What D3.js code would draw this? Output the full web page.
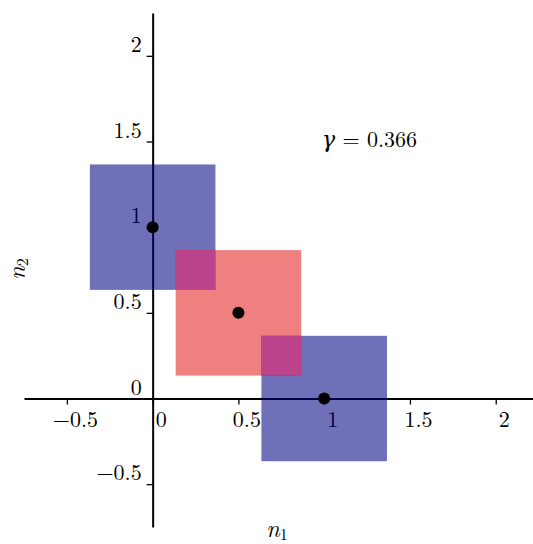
<!DOCTYPE html>
<html>
<head>
<meta charset="utf-8">
<script src="https://cdn.jsdelivr.net/npm/d3@7"></script>
<style>
  body { margin: 0; background: #fff; }
</style>
</head>
<body>
<div class="wrapper"></div>
<script>
// set the dimensions of the graph
var width = 533,
  height = 544,
  fontFam = "'Latin Modern Roman', 'DejaVu Serif', serif";

// square centres (n1, n2) and their colours
var centerN1 = [0, 0.5, 1];
var centerN2 = [1, 0.5, 0];
var squareKind = ["blue", "red", "blue"];
var gamma = 0.366;

// tick values
var xTicks = [-0.5, 0, 0.5, 1, 1.5, 2];
var yTicks = [-0.5, 0, 0.5, 1, 1.5, 2];

var colors = { blue: "#000080", red: "#e41a1c" };
var overlapColor = "#bc448c";

var squares = centerN1.map(function(c, i) {
  return { x: c, y: centerN2[i], kind: squareKind[i] };
});

var x = d3.scaleLinear().domain([-0.75, 2.25]).range([24, 538.6]);
var y = d3.scaleLinear().domain([-0.75, 2.25]).range([527, 13]);

var svg = d3
  .select(".wrapper")
  .append("svg")
  .attr("width", width)
  .attr("height", height)
  .style("font-family", fontFam);

function fmt(v) {
  return v < 0 ? "\u2212" + Math.abs(v) : String(v);
}

function styleAxis(g) {
  g.attr("font-family", null);
  g.select(".domain").attr("stroke", "#000").attr("stroke-width", 2);
  g.selectAll(".tick line").attr("stroke", "#000").attr("stroke-width", 1.3);
  g.selectAll(".tick text")
    .style("font-family", fontFam)
    .style("font-size", "22px")
    .attr("fill", "#000");
}

// x axis through origin
var gx = svg
  .append("g")
  .attr("class", "axis xAxis")
  .attr("transform", "translate(0," + y(0) + ")")
  .call(d3.axisBottom(x).tickValues(xTicks).tickSize(6).tickSizeOuter(0).tickFormat(fmt))
  .call(styleAxis);
gx.selectAll(".tick text").attr("y", 28).attr("dy", null).attr("dx", 8);

// y axis through origin
var gy = svg
  .append("g")
  .attr("class", "axis yAxis")
  .attr("transform", "translate(" + x(0) + ",0)")
  .call(d3.axisLeft(y).tickValues(yTicks).tickSize(6).tickSizeOuter(0).tickFormat(fmt))
  .call(styleAxis);
gy.selectAll(".tick text").attr("x", -11).attr("dy", null).attr("y", -4.5);

// squares of half width gamma
svg
  .append("g")
  .selectAll("rect")
  .data(squares)
  .enter()
  .append("rect")
  .attr("x", function(d) { return x(d.x - gamma); })
  .attr("y", function(d) { return y(d.y + gamma); })
  .attr("width", function(d) { return x(d.x + gamma) - x(d.x - gamma); })
  .attr("height", function(d) { return y(d.y - gamma) - y(d.y + gamma); })
  .attr("fill", function(d) { return colors[d.kind]; })
  .attr("fill-opacity", 0.56);

// overlaps between neighbouring squares
var overlaps = [];
for (var i = 0; i < squares.length; i++) {
  for (var j = i + 1; j < squares.length; j++) {
    var a = squares[i], b = squares[j];
    var x0 = Math.max(a.x, b.x) - gamma, x1 = Math.min(a.x, b.x) + gamma;
    var y0 = Math.max(a.y, b.y) - gamma, y1 = Math.min(a.y, b.y) + gamma;
    if (x1 > x0 && y1 > y0) overlaps.push({ x0: x0, x1: x1, y0: y0, y1: y1 });
  }
}
svg
  .append("g")
  .selectAll("rect")
  .data(overlaps)
  .enter()
  .append("rect")
  .attr("x", function(d) { return x(d.x0); })
  .attr("y", function(d) { return y(d.y1); })
  .attr("width", function(d) { return x(d.x1) - x(d.x0); })
  .attr("height", function(d) { return y(d.y0) - y(d.y1); })
  .attr("fill", overlapColor);

// centre points
svg
  .append("g")
  .selectAll("circle")
  .data(squares)
  .enter()
  .append("circle")
  .attr("cx", function(d) { return x(d.x); })
  .attr("cy", function(d) { return y(d.y); })
  .attr("r", 6)
  .attr("fill", "#000");

// gamma annotation
var gText = svg
  .append("text")
  .attr("x", 322)
  .attr("y", y(1.5) + 5)
  .style("font-size", "22px");
gText.append("tspan").attr("font-style", "italic").text("\u03b3");
gText.append("tspan").text(" = " + gamma);

// axis labels
var n1 = svg
  .append("text")
  .attr("x", 277)
  .attr("y", 537)
  .attr("text-anchor", "middle")
  .style("font-size", "24px");
n1.append("tspan").attr("font-style", "italic").text("n");
n1.append("tspan").style("font-size", "16px").attr("dy", 3).text("1");

var n2 = svg
  .append("text")
  .attr("transform", "translate(25,269) rotate(-90)")
  .attr("text-anchor", "middle")
  .style("font-size", "24px");
n2.append("tspan").attr("font-style", "italic").text("n");
n2.append("tspan").style("font-size", "16px").attr("dy", 3).text("2");
</script>
</body>
</html>
